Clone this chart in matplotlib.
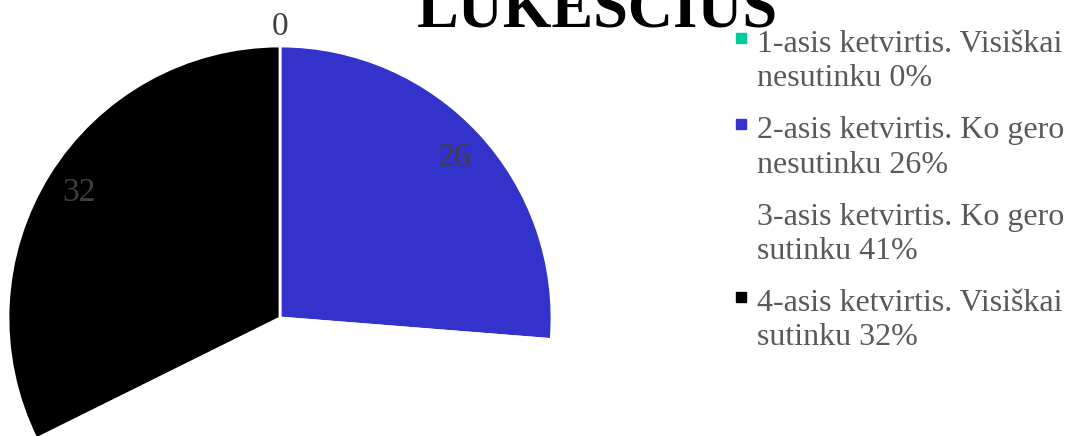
import matplotlib.pyplot as plt
import numpy as np
from matplotlib.patches import Rectangle

plt.rcParams['font.family'] = ['Liberation Serif', 'DejaVu Serif']

# duomenys
values = [0, 26, 41, 32]
labels_line1 = ['1-asis ketvirtis. Visiškai', '2-asis ketvirtis. Ko gero',
                '3-asis ketvirtis. Ko gero', '4-asis ketvirtis. Visiškai']
labels_line2 = ['nesutinku 0%', 'nesutinku 26%', 'sutinku 41%', 'sutinku 32%']
colors = ['#00CC99', '#3333CC', '#FFFFFF', '#000000']
title = 'LŪKESČIUS'

W, H = 1068, 436
fig = plt.figure(figsize=(W / 100, H / 100), dpi=100)

# pyragas: centras (280, 318), spindulys 272 px
cx, cy, r = 280, 318, 272
ax = fig.add_axes([(cx - r) / W, (H - cy - r) / H, 2 * r / W, 2 * r / H])
wedges, _ = ax.pie(values, colors=colors, startangle=90, counterclock=False,
                   radius=1, wedgeprops=dict(edgecolor='white', linewidth=2))
ax.set_xlim(-1, 1)
ax.set_ylim(-1, 1)
ax.set_aspect('equal')
ax.axis('off')

# reikšmių etiketės
for w, v, c in zip(wedges, values, colors):
    if c == '#FFFFFF':
        continue
    mid = np.deg2rad((w.theta1 + w.theta2) / 2)
    d = 1.07 if v == 0 else 0.87
    ax.text(d * np.cos(mid), d * np.sin(mid), str(v), ha='center', va='center',
            fontsize=24, color='#404040', clip_on=False)

fig.text(597 / W, 1 - 27 / H, title, ha='center', va='baseline',
         fontsize=45, fontweight='bold', color='black')

# legenda
for i in range(len(values)):
    y0 = 52 + i * 86.3
    fig.patches.append(Rectangle((736 / W, 1 - (y0 - 9) / H), 10 / W, 10 / H,
                                 transform=fig.transFigure, color=colors[i]))
    fig.text(757 / W, 1 - y0 / H, labels_line1[i], va='baseline',
             fontsize=23, color='#595959')
    fig.text(757 / W, 1 - (y0 + 34.5) / H, labels_line2[i], va='baseline',
             fontsize=23, color='#595959')

plt.savefig('out.png', dpi=100)
